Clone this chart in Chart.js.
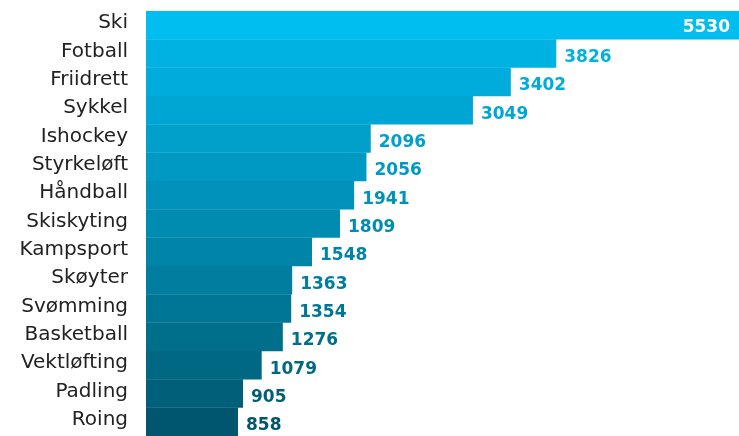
<!DOCTYPE html>
<html>
<head>
<meta charset="utf-8">
<script src="https://cdn.jsdelivr.net/npm/chart.js@4"></script>
<style>
  html, body { margin: 0; padding: 0; background: #fff; }
  #wrap { width: 739px; height: 436px; }
</style>
</head>
<body>
<div id="wrap"><canvas id="sportChart"></canvas></div>
<script>
const sports = ['Ski', 'Fotball', 'Friidrett', 'Sykkel', 'Ishockey', 'Styrkeløft', 'Håndball',
  'Skiskyting', 'Kampsport', 'Skøyter', 'Svømming', 'Basketball', 'Vektløfting', 'Padling', 'Roing'];
const counts = [5530, 3826, 3402, 3049, 2096, 2056, 1941, 1809, 1548, 1363, 1354, 1276, 1079, 905, 858];

const barColors = ['#00bef0', '#00b2e2', '#00acdb', '#00a6d3', '#00a0cb', '#0099c3', '#0092ba',
  '#008bb1', '#0084a8', '#007d9f', '#007696', '#006f8c', '#006883', '#005f79', '#00566e'];

const FONT = '"DejaVu Sans", sans-serif';

// value labels at the end of each bar (first one sits inside, in white)
const valueLabels = {
    id: 'valueLabels',
    afterDatasetsDraw(chart) {
        const ctx = chart.ctx;
        const meta = chart.getDatasetMeta(0);
        ctx.save();
        ctx.font = 'bold 17px ' + FONT;
        ctx.textBaseline = 'middle';
        meta.data.forEach((bar, i) => {
            const txt = String(counts[i]);
            if (i === 0) {
                ctx.fillStyle = '#ffffff';
                ctx.textAlign = 'right';
                ctx.fillText(txt, bar.x - 9, bar.y + 2);
            } else {
                ctx.fillStyle = barColors[i];
                ctx.textAlign = 'left';
                ctx.fillText(txt, bar.x + 8, bar.y + 4);
            }
        });
        ctx.restore();
    }
};

new Chart(document.getElementById('sportChart'), {
    type: 'bar',
    data: {
        labels: sports,
        datasets: [{
            data: counts,
            backgroundColor: barColors,
            borderWidth: 0,
            categoryPercentage: 1,
            barPercentage: 1.01
        }]
    },
    options: {
        indexAxis: 'y',
        responsive: true,
        maintainAspectRatio: false,
        animation: false,
        layout: { padding: { top: 11, bottom: 0, left: 0, right: 0 } },
        plugins: { legend: { display: false }, tooltip: { enabled: false } },
        scales: {
            x: { display: false, min: 0, max: 5530 },
            y: {
                grid: { display: false, drawTicks: false },
                border: { display: false },
                afterFit(scale) {
                    scale.width = 146;
                    scale.paddingTop = 0;
                    scale.paddingBottom = 0;
                },
                ticks: {
                    color: '#222222',
                    padding: 18,
                    font: { family: FONT, size: 20 },
                    labelOffset: -2
                }
            }
        }
    },
    plugins: [valueLabels]
});
</script>
</body>
</html>
